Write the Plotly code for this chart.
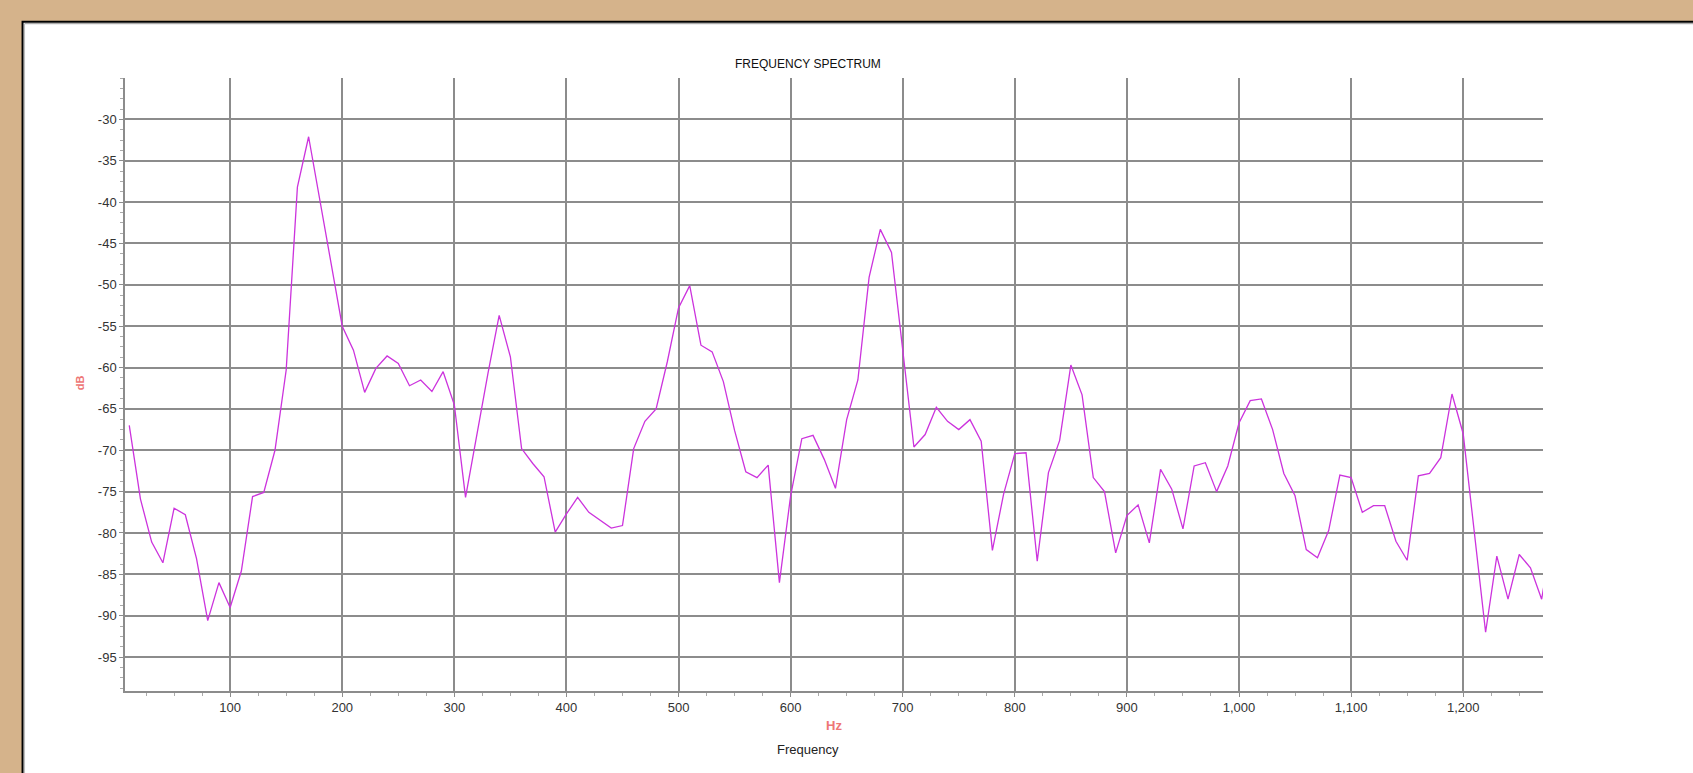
import plotly.graph_objects as go

# ---- data ----
freq_hz = [10, 20, 30, 40, 50, 60, 70, 80, 90, 100,
           110, 120, 130, 140, 150, 160, 170, 180, 190, 200,
           210, 220, 230, 240, 250, 260, 270, 280, 290, 300,
           310, 320, 330, 340, 350, 360, 370, 380, 390, 400,
           410, 420, 430, 440, 450, 460, 470, 480, 490, 500,
           510, 520, 530, 540, 550, 560, 570, 580, 590, 600,
           610, 620, 630, 640, 650, 660, 670, 680, 690, 700,
           710, 720, 730, 740, 750, 760, 770, 780, 790, 800,
           810, 820, 830, 840, 850, 860, 870, 880, 890, 900,
           910, 920, 930, 940, 950, 960, 970, 980, 990, 1000,
           1010, 1020, 1030, 1040, 1050, 1060, 1070, 1080, 1090, 1100,
           1110, 1120, 1130, 1140, 1150, 1160, 1170, 1180, 1190, 1200,
           1210, 1220, 1230, 1240, 1250, 1260, 1270, 1280]

level_db = [-67.0, -75.9, -81.1, -83.6, -77.0, -77.8, -83.1, -90.6, -86.0, -89.0,
            -84.6, -75.6, -75.1, -70.0, -60.3, -38.2, -32.1, -39.8, -47.2, -55.0,
            -57.9, -63.0, -60.1, -58.6, -59.5, -62.2, -61.5, -62.9, -60.5, -64.5,
            -75.7, -68.0, -60.7, -53.7, -58.7, -69.8, -71.6, -73.2, -79.9, -77.7,
            -75.7, -77.5, -78.5, -79.4, -79.1, -69.8, -66.5, -65.0, -59.3, -52.8,
            -50.1, -57.3, -58.1, -61.7, -67.6, -72.6, -73.3, -71.8, -86.0, -75.5,
            -68.6, -68.2, -71.1, -74.6, -66.3, -61.5, -49.1, -43.3, -46.1, -57.9,
            -69.6, -68.1, -64.8, -66.5, -67.5, -66.3, -68.9, -82.1, -75.3, -70.4,
            -70.3, -83.4, -72.7, -68.8, -59.7, -63.3, -73.3, -75.0, -82.4, -77.9,
            -76.6, -81.2, -72.3, -74.7, -79.5, -71.9, -71.5, -75.0, -71.9, -66.7,
            -64.0, -63.8, -67.5, -72.8, -75.5, -82.0, -83.0, -79.7, -73.0, -73.3,
            -77.5, -76.7, -76.7, -81.0, -83.3, -73.1, -72.8, -70.9, -63.2, -68.0,
            -79.9, -92.0, -82.8, -88.0, -82.6, -84.2, -88.0, -80.0]

x_tick_vals = [100, 200, 300, 400, 500, 600, 700, 800, 900, 1000, 1100, 1200]
x_tick_text = ["100", "200", "300", "400", "500", "600", "700", "800", "900",
               "1,000", "1,100", "1,200"]
y_tick_vals = [-30, -35, -40, -45, -50, -55, -60, -65, -70, -75, -80, -85, -90, -95]
y_tick_text = ["-30", "-35", "-40", "-45", "-50", "-55", "-60", "-65", "-70",
               "-75", "-80", "-85", "-90", "-95"]

# ---- geometry (pixels) ----
W, H = 1693, 773
PL, PR, PT, PB = 124.5, 1543.3, 78.3, 691.3
pw, ph = PR - PL, PB - PT


def px(x):
    return (x - PL) / pw


def py(y):
    return (PB - y) / ph


TAN = "#D5B38B"
GRID = "#8C8C8C"
SALMON = "#EE7676"
FONT = "Liberation Sans, Arial, sans-serif"

fig = go.Figure()
fig.add_trace(go.Scatter(
    x=freq_hz, y=level_db, mode="lines",
    line=dict(color="#CC33DD", width=1.3),
    hoverinfo="x+y", showlegend=False,
))

fig.update_layout(
    width=W, height=H,
    autosize=False,
    paper_bgcolor=TAN,
    plot_bgcolor="white",
    margin=dict(l=PL, r=W - PR, t=PT, b=H - PB, pad=0),
    font=dict(family=FONT, size=13, color="#333333"),
    showlegend=False,
    shapes=[
        dict(type="rect", xref="paper", yref="paper", layer="below",
             x0=px(22), x1=px(1760), y0=py(840), y1=py(22),
             fillcolor="white", line=dict(color="black", width=2)),
        dict(type="line", xref="paper", yref="paper", layer="below",
             x0=px(24), x1=px(1760), y0=py(24), y1=py(24),
             line=dict(color="#999999", width=1)),
        dict(type="line", xref="paper", yref="paper", layer="below",
             x0=px(24), x1=px(24), y0=py(24), y1=py(840),
             line=dict(color="#BBBBBB", width=1)),
    ],
    annotations=[
        dict(text="FREQUENCY SPECTRUM", xref="paper", yref="paper",
             x=px(808), y=py(64), showarrow=False, xanchor="center", yanchor="middle",
             font=dict(family=FONT, size=12, color="#111111")),
        dict(text="<b>Hz</b>", xref="paper", yref="paper",
             x=px(834), y=py(726), showarrow=False, xanchor="center", yanchor="middle",
             font=dict(family=FONT, size=13, color=SALMON)),
        dict(text="Frequency", xref="paper", yref="paper",
             x=px(808), y=py(750), showarrow=False, xanchor="center", yanchor="middle",
             font=dict(family=FONT, size=13, color="#222222")),
        dict(text="<b>dB</b>", xref="paper", yref="paper",
             x=px(79), y=py(383), showarrow=False, xanchor="center", yanchor="middle",
             textangle=-90,
             font=dict(family=FONT, size=11, color=SALMON)),
    ],
)

fig.update_xaxes(
    range=[6.2, 1271.2],
    tickmode="array", tickvals=x_tick_vals, ticktext=x_tick_text,
    showgrid=True, gridcolor=GRID, gridwidth=1.6,
    showline=True, linecolor=GRID, linewidth=1.5,
    ticks="outside", ticklen=4, tickcolor=GRID, tickwidth=1,
    minor=dict(dtick=25, tick0=0, ticks="outside", ticklen=3, tickcolor="#AAAAAA", showgrid=False),
    zeroline=False, mirror=False,
    tickfont=dict(family=FONT, size=13, color="#333333"),
    fixedrange=True,
)
fig.update_yaxes(
    range=[-99.1, -25.0],
    tickmode="array", tickvals=y_tick_vals, ticktext=y_tick_text,
    showgrid=True, gridcolor=GRID, gridwidth=1.6,
    showline=True, linecolor=GRID, linewidth=1.5,
    ticks="outside", ticklen=4, tickcolor=GRID, tickwidth=1,
    minor=dict(dtick=1.25, tick0=0, ticks="outside", ticklen=3, tickcolor="#AAAAAA", showgrid=False),
    zeroline=False, mirror=False,
    tickfont=dict(family=FONT, size=13, color="#333333"),
    fixedrange=True,
)

fig.write_html(
    "out.html",
    config={"displayModeBar": False},
    post_script="document.body.style.margin='0';document.body.style.overflow='hidden';",
)
